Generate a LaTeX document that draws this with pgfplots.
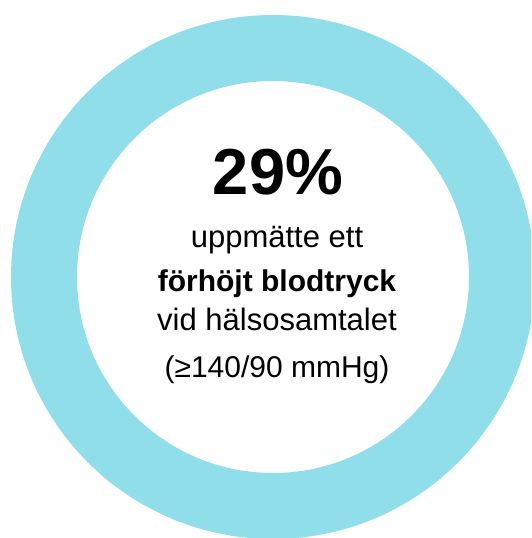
\documentclass[border=0pt]{standalone}
\usepackage{pgfplots}
\pgfplotsset{compat=1.18}
\usepackage{fontspec}
\setmainfont{Liberation Sans}
\definecolor{ring}{RGB}{143,222,233}
\begin{document}
\begin{tikzpicture}
\begin{axis}[
  width=531pt, height=538pt, scale only axis,
  xmin=0, xmax=531, ymin=0, ymax=538,
  hide axis, clip=true,
]
% single-category ring (100% fill), centre (273,261), radii 196..262
\draw[ring, line width=66pt] (axis cs:273,261) circle[radius=229pt];
\node[anchor=base, font=\bfseries\fontsize{65}{65}\selectfont] at (axis cs:278,343) {29\%};
\node[anchor=base, font=\fontsize{31}{31}\selectfont] at (axis cs:277,290) {uppmätte ett};
\node[anchor=base, font=\bfseries\fontsize{30}{30}\selectfont] at (axis cs:277,246) {förhöjt blodtryck};
\node[anchor=base, font=\fontsize{31}{31}\selectfont] at (axis cs:277,207) {vid hälsosamtalet};
\node[anchor=base, font=\fontsize{30}{30}\selectfont] at (axis cs:277,160) {(≥140/90 mmHg)};
\end{axis}
\pgfresetboundingbox
\path (current axis.south west) rectangle (current axis.north east);
\end{tikzpicture}
\end{document}
